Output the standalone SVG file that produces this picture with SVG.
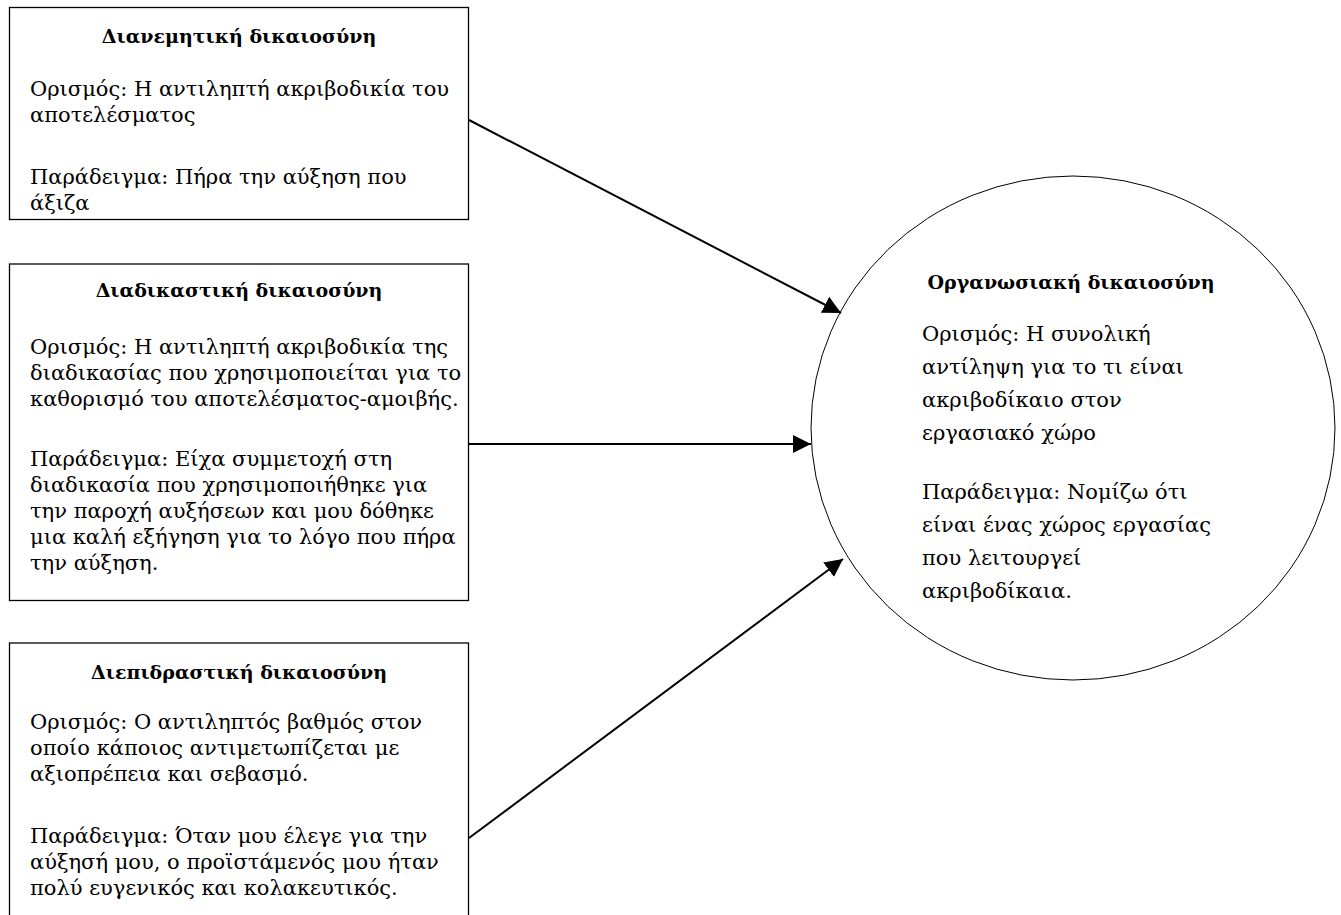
<svg xmlns="http://www.w3.org/2000/svg" width="1341" height="915" viewBox="0 0 1341 915">
<style>
.box{fill:#fff;stroke:#000;stroke-width:1.3}
.circ{fill:#fff;stroke:#000;stroke-width:1}
.t{font-family:"DejaVu Serif","Liberation Serif",serif;font-size:21px;fill:#000}
.b{font-weight:bold;text-anchor:middle;font-size:19px}
.con{stroke:#000;stroke-width:2;fill:none;marker-end:url(#ah)}
</style>
<defs>
<marker id="ah" markerUnits="userSpaceOnUse" markerWidth="19" markerHeight="18" refX="18" refY="9" orient="auto">
<path d="M0,0 L18,9 L0,18 Z" fill="#000"/>
</marker>
</defs>
<rect width="1341" height="915" fill="#fff"/>
<g id="node-distributive">
<rect class="box" x="9.5" y="7.5" width="459" height="212"/>
<text class="t b" x="239" y="43">Διανεμητική δικαιοσύνη</text>
<text class="t" x="30" y="96">Ορισμός: Η αντιληπτή ακριβοδικία του</text>
<text class="t" x="30" y="122">αποτελέσματος</text>
<text class="t" x="30" y="184">Παράδειγμα: Πήρα την αύξηση που</text>
<text class="t" x="30" y="210">άξιζα</text>
</g>
<g id="node-procedural">
<rect class="box" x="9.5" y="264" width="459" height="336.5"/>
<text class="t b" x="239" y="297">Διαδικαστική δικαιοσύνη</text>
<text class="t" x="30" y="354">Ορισμός: Η αντιληπτή ακριβοδικία της</text>
<text class="t" x="30" y="380">διαδικασίας που χρησιμοποιείται για το</text>
<text class="t" x="30" y="406">καθορισμό του αποτελέσματος-αμοιβής.</text>
<text class="t" x="30" y="466">Παράδειγμα: Είχα συμμετοχή στη</text>
<text class="t" x="30" y="492">διαδικασία που χρησιμοποιήθηκε για</text>
<text class="t" x="30" y="518">την παροχή αυξήσεων και μου δόθηκε</text>
<text class="t" x="30" y="544">μια καλή εξήγηση για το λόγο που πήρα</text>
<text class="t" x="30" y="570">την αύξηση.</text>
</g>
<g id="node-interactional">
<rect class="box" x="9.5" y="643" width="459" height="290"/>
<text class="t b" x="239" y="679">Διεπιδραστική δικαιοσύνη</text>
<text class="t" x="30" y="729">Ορισμός: Ο αντιληπτός βαθμός στον</text>
<text class="t" x="30" y="755">οποίο κάποιος αντιμετωπίζεται με</text>
<text class="t" x="30" y="781">αξιοπρέπεια και σεβασμό.</text>
<text class="t" x="30" y="843">Παράδειγμα: Όταν μου έλεγε για την</text>
<text class="t" x="30" y="869">αύξησή μου, ο προϊστάμενός μου ήταν</text>
<text class="t" x="30" y="895">πολύ ευγενικός και κολακευτικός.</text>
</g>
<g id="node-organizational">
<ellipse class="circ" cx="1073" cy="428" rx="262" ry="252"/>
<text class="t b" x="1071" y="289">Οργανωσιακή δικαιοσύνη</text>
<text class="t" x="922" y="341">Ορισμός: Η συνολική</text>
<text class="t" x="922" y="374">αντίληψη για το τι είναι</text>
<text class="t" x="922" y="407">ακριβοδίκαιο στον</text>
<text class="t" x="922" y="440">εργασιακό χώρο</text>
<text class="t" x="922" y="499">Παράδειγμα: Νομίζω ότι</text>
<text class="t" x="922" y="532">είναι ένας χώρος εργασίας</text>
<text class="t" x="922" y="565">που λειτουργεί</text>
<text class="t" x="922" y="598">ακριβοδίκαια.</text>
</g>
<g id="connectors">
<line class="con" x1="469" y1="120" x2="841" y2="313"/>
<line class="con" x1="469" y1="444" x2="811" y2="444"/>
<line class="con" x1="469" y1="838" x2="843" y2="559"/>
</g>
</svg>
